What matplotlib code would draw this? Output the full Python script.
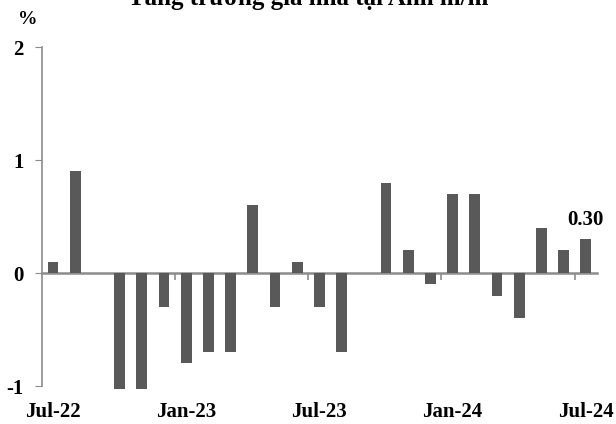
import matplotlib
matplotlib.use('Agg')
import matplotlib.pyplot as plt
import matplotlib.transforms as mtransforms

# du lieu: tang truong gia nha tai Anh, % m/m
thang = ['Jul-22', 'Aug-22', 'Sep-22', 'Oct-22', 'Nov-22', 'Dec-22',
         'Jan-23', 'Feb-23', 'Mar-23', 'Apr-23', 'May-23', 'Jun-23',
         'Jul-23', 'Aug-23', 'Sep-23', 'Oct-23', 'Nov-23', 'Dec-23',
         'Jan-24', 'Feb-24', 'Mar-24', 'Apr-24', 'May-24', 'Jun-24',
         'Jul-24']
tang_truong = [0.1, 0.9, 0.0, -1.03, -1.03, -0.3,
               -0.8, -0.7, -0.7, 0.6, -0.3, 0.1,
               -0.3, -0.7, 0.0, 0.8, 0.2, -0.1,
               0.7, 0.7, -0.2, -0.4, 0.4, 0.2,
               0.3]
nhan_x = ['Jul-22', 'Jan-23', 'Jul-23', 'Jan-24', 'Jul-24']
moc_y = [-1, 0, 1, 2]

plt.rcParams['font.family'] = ['Liberation Serif', 'DejaVu Serif']
plt.rcParams['font.weight'] = 'bold'

mau_cot = '#595959'
mau_truc = '#8c8c8c'

fig = plt.figure(figsize=(6.16, 4.24), dpi=100)
ax = fig.add_axes([0.068, 0.0896, 0.901, 0.7994])

x = list(range(len(thang)))
ax.bar(x, tang_truong, width=0.48, color=mau_cot, zorder=3, clip_on=False)

ax.set_xlim(-0.5, len(thang) - 0.5)
ax.set_ylim(-1, 2)

for s in ['top', 'right']:
    ax.spines[s].set_visible(False)
ax.spines['left'].set_color(mau_truc)
ax.spines['left'].set_linewidth(1.2)
ax.spines['bottom'].set_position(('data', 0))
ax.spines['bottom'].set_color(mau_truc)
ax.spines['bottom'].set_linewidth(1.8)

ax.set_yticks(moc_y)
ax.set_yticklabels([str(v) for v in moc_y], fontsize=15, fontweight='bold')
ax.tick_params(axis='y', length=5, color=mau_truc, pad=8)

# vach chia giua cac nua nam
ax.set_xticks([5.5, 11.5, 17.5, 23.5])
ax.set_xticklabels([])
ax.tick_params(axis='x', length=5, width=1.2, color=mau_truc, direction='out')

trans = mtransforms.blended_transform_factory(ax.transData, ax.transAxes)
for lb in nhan_x:
    ax.text(thang.index(lb), -0.077, lb, transform=trans, ha='center', va='center',
            fontsize=15, fontweight='bold')

ax.annotate('%.2f' % tang_truong[-1], (len(thang) - 1, tang_truong[-1]),
            xytext=(0, 10), textcoords='offset points', ha='center',
            va='baseline', fontsize=15, fontweight='bold')

fig.text(28 / 616, 1 - 24 / 424, '%', ha='center', va='baseline', fontsize=14, fontweight='bold')
fig.text(0.5, 1 - 5 / 424, 'Tăng trưởng giá nhà tại Anh m/m', ha='center', va='baseline',
         fontsize=18, fontweight='bold')

plt.savefig('out.png', dpi=100)
